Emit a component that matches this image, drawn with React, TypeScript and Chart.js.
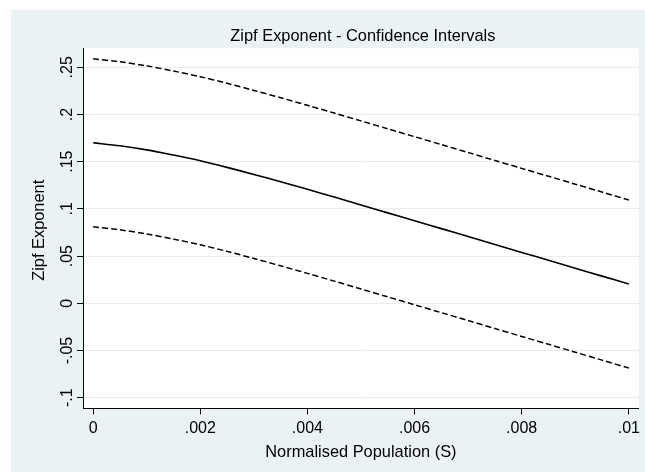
import React, { useEffect, useRef } from "react";
import { Chart, registerables } from "chart.js";

Chart.register(...registerables);

const sValues = [0, 0.0005, 0.001, 0.0015, 0.002, 0.0025, 0.003, 0.0035, 0.004, 0.0045, 0.005, 0.0055, 0.006, 0.0065, 0.007, 0.0075, 0.008, 0.0085, 0.009, 0.0095, 0.01];
const zipfMid = [0.170, 0.1668, 0.1625, 0.1570, 0.1510, 0.1440, 0.1365, 0.1287, 0.1207, 0.1125, 0.1042, 0.0958, 0.0875, 0.0791, 0.0707, 0.0623, 0.0539, 0.0456, 0.0372, 0.0288, 0.0204];
const zipfUpper = [0.259, 0.2558, 0.2515, 0.246, 0.240, 0.233, 0.2255, 0.2177, 0.2097, 0.2015, 0.1932, 0.1848, 0.1765, 0.1681, 0.1597, 0.1513, 0.1429, 0.1346, 0.1262, 0.1178, 0.1094];
const zipfLower = [0.081, 0.0778, 0.0735, 0.068, 0.062, 0.055, 0.0475, 0.0397, 0.0317, 0.0235, 0.0152, 0.0068, -0.0015, -0.0099, -0.0183, -0.0267, -0.0351, -0.0434, -0.0518, -0.0602, -0.0686];

const xTicks = [0, 0.002, 0.004, 0.006, 0.008, 0.01];
const xTickLabels = ["0", ".002", ".004", ".006", ".008", ".01"];
const yTicks = [-0.1, -0.05, 0, 0.05, 0.1, 0.15, 0.2, 0.25];
const yTickLabels = ["-.1", "-.05", "0", ".05", ".1", ".15", ".2", ".25"];

const titleText = "Zipf Exponent - Confidence Intervals";
const xTitle = "Normalised Population (S)";
const yTitle = "Zipf Exponent";

const FONT = '"Liberation Sans", Arial, Helvetica, sans-serif';
const BG = "#eaf2f3";

export default function App() {
  const ref = useRef<HTMLCanvasElement | null>(null);
  useEffect(() => {
    if (!ref.current) return;
    const toPts = (arr: number[]) => arr.map((y, i) => ({ x: sValues[i], y }));
    const decor = {
      id: "decor",
      beforeDraw(chart: any) {
        const ctx = chart.ctx;
        const a = chart.chartArea;
        ctx.save();
        ctx.fillStyle = "#ffffff";
        ctx.fillRect(0, 0, chart.width, chart.height);
        ctx.fillStyle = BG;
        ctx.fillRect(11, 10, chart.width - 11, chart.height - 10);
        ctx.fillStyle = "#ffffff";
        ctx.fillRect(a.left, a.top, a.right - a.left, a.bottom - a.top);
        ctx.restore();
      },
      afterDraw(chart: any) {
        const ctx = chart.ctx;
        const a = chart.chartArea;
        const ys = chart.scales.y;
        ctx.save();
        ctx.fillStyle = "#000";
        ctx.font = `16px ${FONT}`;
        ctx.textAlign = "center";
        ctx.textBaseline = "alphabetic";
        ys.ticks.forEach((t: any, i: number) => {
          const py = ys.getPixelForValue(t.value);
          ctx.save();
          ctx.translate(72, py);
          ctx.rotate(-Math.PI / 2);
          ctx.fillText(yTickLabels[i], 0, 0);
          ctx.restore();
        });
        ctx.font = `16.4px ${FONT}`;
        ctx.save();
        ctx.translate(43.5, (a.top + a.bottom) / 2 + 2);
        ctx.rotate(-Math.PI / 2);
        ctx.fillText(yTitle, 0, 0);
        ctx.restore();
        ctx.fillText(xTitle, (a.left + a.right) / 2, 457);
        ctx.fillText(titleText, (a.left + a.right) / 2 + 2, 41);
        ctx.restore();
      },
    };
    const chart = new Chart(ref.current, {
      type: "scatter",
      data: {
        datasets: [
          { data: toPts(zipfUpper), borderColor: "#000", borderWidth: 1.5, borderDash: [6, 3], showLine: true, pointRadius: 0, tension: 0.3 },
          { data: toPts(zipfMid), borderColor: "#000", borderWidth: 1.6, showLine: true, pointRadius: 0, tension: 0.3 },
          { data: toPts(zipfLower), borderColor: "#000", borderWidth: 1.5, borderDash: [6, 3], showLine: true, pointRadius: 0, tension: 0.3 },
        ],
      },
      options: {
        animation: false,
        responsive: false,
        layout: { padding: { left: 0, right: 3.3, top: 48.3, bottom: 0 } },
        plugins: { legend: { display: false }, tooltip: { enabled: false }, title: { display: false } },
        scales: {
          x: {
            type: "linear",
            min: -0.00019,
            max: 0.010186,
            afterBuildTicks: (s: any) => { s.ticks = xTicks.map((v) => ({ value: v })); },
            afterFit: (s: any) => { s.height = 63.7; },
            ticks: {
              callback: (_v: any, i: number) => xTickLabels[i],
              font: { family: FONT, size: 16 },
              color: "#000",
              maxRotation: 0,
              minRotation: 0,
              autoSkip: false,
              padding: 5,
            },
            grid: { drawOnChartArea: false, drawTicks: true, tickLength: 6, tickColor: "#000", tickWidth: 1 },
            border: { display: true, color: "#000", width: 1 },
          },
          y: {
            type: "linear",
            min: -0.1112,
            max: 0.2701,
            afterBuildTicks: (s: any) => { s.ticks = yTicks.map((v) => ({ value: v })); },
            afterFit: (s: any) => { s.width = 83; },
            ticks: { display: false },
            grid: { color: "#e6eef0", lineWidth: 1, drawTicks: true, tickLength: 6, tickColor: "#000", tickWidth: 1 },
            border: { display: true, color: "#000", width: 1 },
          },
        },
      },
      plugins: [decor],
    });
    return () => chart.destroy();
  }, []);
  return (
    <div style={{ position: "absolute", left: 0, top: 0 }}>
      <canvas ref={ref} width={645} height={472} style={{ display: "block" }} />
    </div>
  );
}
